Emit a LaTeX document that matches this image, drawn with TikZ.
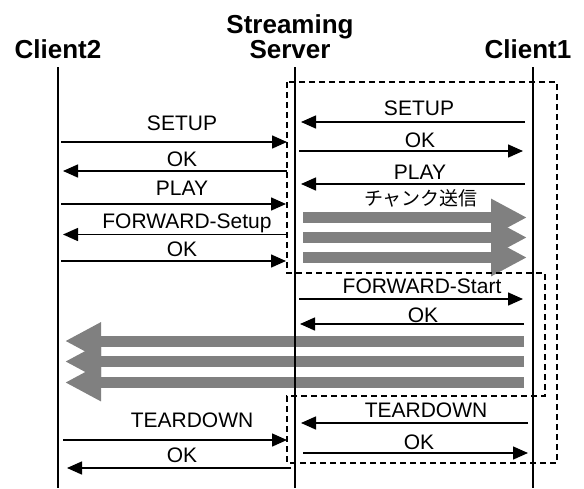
\documentclass[tikz,border=0pt]{standalone}
\usepackage{fontspec}
\setmainfont{Liberation Sans}
\newfontfamily\jpfont{Noto Sans CJK JP}
\usetikzlibrary{arrows.meta}
\definecolor{chunkgray}{HTML}{808080}
\tikzset{
  every node/.style={font=\fontsize{21}{25}\selectfont, inner sep=0pt},
  actor/.style={font=\fontsize{26}{25}\selectfont\bfseries, align=center},
  lifeline/.style={line width=2pt},
  msg/.style={-{Triangle[length=15pt,width=13pt]}, line width=1.5pt},
  chunk/.style={-{Triangle[length=36pt,width=35pt]}, line width=11pt, draw=chunkgray},
  session/.style={dash pattern=on 6pt off 4pt, line width=1.5pt},
}
\begin{document}
\begin{tikzpicture}[x=1pt, y=-1pt]
  \useasboundingbox (0,0) rectangle (584,488);
  % actors
  \node[actor, anchor=base] (c2) at (58,58) {Client2};
  \node[actor, anchor=base] (srv) at (290,58) {Streaming\\Server};
  \node[actor, anchor=base] (c1) at (528,58) {Client1};
  % chunk streams
  \draw[chunk] (303,217.5) -- (527,217.5);
  \draw[chunk] (303,237.5) -- (527,237.5);
  \draw[chunk] (303,257.5) -- (527,257.5);
  \draw[chunk] (524,341) -- (65,341);
  \draw[chunk] (524,361.5) -- (65,361.5);
  \draw[chunk] (524,382.5) -- (65,382.5);
  % lifelines
  \draw[lifeline] (58,67) -- (58,488);
  \draw[lifeline] (295,67) -- (295,488);
  \draw[lifeline] (533,67) -- (533,488);
  % sessions
  \draw[session] (287,82) -- (287,273) -- (545,273) -- (545,396) -- (287,396)
    -- (287,463) -- (557,463) -- (557,82) -- cycle;
  % Client2 <-> Server
  \draw[msg] (61,142) -- (287,142);
  \node[anchor=base] (l1) at (182,130) {SETUP};
  \draw[msg] (287,171) -- (63,171);
  \node[anchor=base] (l2) at (182,166) {OK};
  \draw[msg] (61,204) -- (286,204);
  \node[anchor=base] (l3) at (182,195) {PLAY};
  \draw[msg] (287,234.5) -- (63,234.5);
  \node[anchor=base] (l4) at (187,228) {FORWARD-Setup};
  \draw[msg] (61,261) -- (286,261);
  \node[anchor=base] (l5) at (182,256) {OK};
  \draw[msg] (63,440) -- (287,440);
  \node[anchor=base] (l6) at (192,427) {TEARDOWN};
  \draw[msg] (291,468) -- (67,468);
  \node[anchor=base] (l7) at (182,462) {OK};
  % Server <-> Client1
  \draw[msg] (525,122) -- (301,122);
  \node[anchor=base] (r1) at (419,115) {SETUP};
  \draw[msg] (299,151) -- (523,151);
  \node[anchor=base] (r2) at (420,147) {OK};
  \draw[msg] (525,184) -- (301,184);
  \node[anchor=base] (r3) at (420,179) {PLAY};
  \node[anchor=base, font=\jpfont\fontsize{19}{22}\selectfont] (r4) at (421,205) {チャンク送信};
  \draw[msg] (299,299) -- (523,299);
  \node[anchor=base] (r5) at (422,293) {FORWARD-Start};
  \draw[msg] (524,324) -- (300,324);
  \node[anchor=base] (r6) at (423,322) {OK};
  \draw[msg] (528,423) -- (301,423);
  \node[anchor=base] (r7) at (426,417) {TEARDOWN};
  \draw[msg] (303,453) -- (528,453);
  \node[anchor=base] (r8) at (419,449) {OK};
\end{tikzpicture}
\end{document}
